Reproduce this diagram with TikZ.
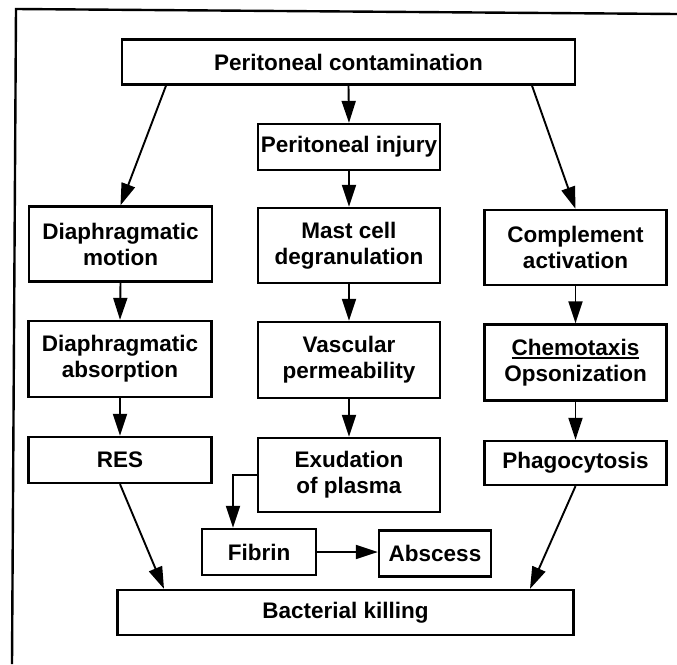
\documentclass[tikz,border=0pt]{standalone}
\usepackage{fontspec}
\setmainfont{Liberation Sans}
\usetikzlibrary{arrows.meta}
\newcommand\myul[1]{\setbox0\hbox{#1}\rlap{\rule[-3.5pt]{\wd0}{1.4pt}}\box0}
\tikzset{
  box/.style={draw, line width=2.3pt, inner sep=0pt, align=center,
    font=\fontsize{22.5}{26}\selectfont\bfseries},
  arr/.style={line width=1.9pt, -{Triangle[length=22pt,width=14pt]}},
  frame/.style={line width=2.4pt}
}
\begin{document}
\begin{tikzpicture}[x=1pt,y=-1pt]
\useasboundingbox (0,0) rectangle (677,664);
\fill[white] (0,0) rectangle (677,664);
\draw[frame] (677,14) -- (16,9) -- (12,664);

\node[box, minimum width=453pt, minimum height=45pt] (pc) at (348.5,62) {Peritoneal contamination};
\node[box, minimum width=182pt, minimum height=46pt] (pi) at (349,147) {Peritoneal injury};

\node[box, minimum width=183pt, minimum height=75pt] (dm) at (120.5,244) {Diaphragmatic\\motion};
\node[box, minimum width=182pt, minimum height=75pt] (mc) at (349,245.5) {Mast cell\\degranulation};
\node[box, minimum width=182pt, minimum height=75pt] (ca) at (575.5,247.5) {Complement\\activation};

\node[box, minimum width=183pt, minimum height=76pt] (da) at (120,359) {Diaphragmatic\\absorption};
\node[box, minimum width=182pt, minimum height=76pt] (vp) at (349,360) {Vascular\\permeability};
\node[box, minimum width=182pt, minimum height=76pt] (co) at (575.5,362.5) {\myul{Chemotaxis}\\Opsonization};

\node[box, minimum width=183pt, minimum height=46pt] (res) at (120,460) {RES};
\node[box, minimum width=182pt, minimum height=74pt] (ex) at (349,475) {Exudation\\of plasma};
\node[box, minimum width=182pt, minimum height=44pt] (ph) at (575.5,463) {Phagocytosis};

\node[box, minimum width=114pt, minimum height=46pt] (fi) at (259,552) {Fibrin};
\node[box, minimum width=112pt, minimum height=46pt] (ab) at (435,553.5) {Abscess};

\node[box, minimum width=456pt, minimum height=45pt] (bk) at (345.5,612.5) {Bacterial killing};

\draw[arr] ([xshift=-182.5pt]pc.south) -- (dm.north);
\draw[arr] (pc.south) -- (pi.north);
\draw[arr] ([xshift=183.5pt]pc.south) -- (ca.north);
\draw[arr] (pi.south) -- (mc.north);

\draw[arr] (dm.south) -- (da.north);
\draw[arr] (mc.south) -- (vp.north);
\draw[arr] (ca.south) -- (co.north);

\draw[arr] (da.south) -- (res.north);
\draw[arr] (vp.south) -- (ex.north);
\draw[arr] (co.south) -- (ph.north);

\draw[arr] (ex.west) -| ([xshift=-26pt]fi.north);
\draw[arr] (fi.east) -- (fi.east -| ab.west);

\draw[arr] (res.south) -- ([xshift=-181.5pt]bk.north);
\draw[arr] (ph.south) -- ([xshift=184.5pt]bk.north);
\end{tikzpicture}
\end{document}
